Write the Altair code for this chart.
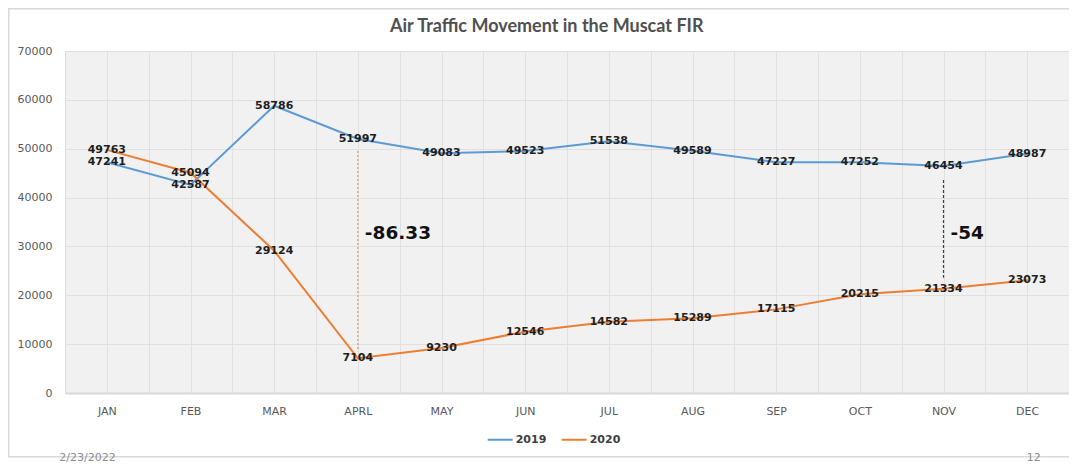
import json
import altair as alt
import pandas as pd

# ---- data ----
months = ["JAN", "FEB", "MAR", "APRL", "MAY", "JUN", "JUL", "AUG", "SEP", "OCT", "NOV", "DEC"]
years = ["2019", "2020"]
values_2019 = [47241, 42587, 58786, 51997, 49083, 49523, 51538, 49589, 47227, 47252, 46454, 48987]
values_2020 = [49763, 45094, 29124, 7104, 9230, 12546, 14582, 15289, 17115, 20215, 21334, 23073]
y_ticks = [0, 10000, 20000, 30000, 40000, 50000, 60000, 70000]
annot_months = ["APRL", "NOV"]
annot_labels = ["-86.33", "-54"]
title_text = "Air Traffic Movement in the Muscat FIR"
footer_left = "2/23/2022"
footer_right = "12"

rows = []
for yr, vals in zip(years, [values_2019, values_2020]):
    for i, (m, v) in enumerate(zip(months, vals)):
        rows.append({"month": m, "idx": i, "year": yr, "value": v})
df = pd.DataFrame(rows)

ann = pd.DataFrame({
    "month": annot_months,
    "idx": [months.index(m) for m in annot_months],
    "top": [values_2019[months.index(m)] for m in annot_months],
    "bottom": [values_2020[months.index(m)] for m in annot_months],
    "label": annot_labels,
})

BLUE = "#5B9BD5"
ORANGE = "#ED7D31"
GRID = "#e0e0e0"
AXIS_TXT = "#595959"

grid_vals = [i / 2 for i in range(-1, 24)]
label_expr = json.dumps(months) + "[datum.value] || ''"

x_enc = alt.X(
    "idx:Q",
    scale=alt.Scale(domain=[-0.5, 11.5], nice=False, zero=False),
    axis=alt.Axis(
        values=grid_vals, labelExpr=label_expr, title=None, ticks=False,
        labelAngle=0, labelOverlap=False, labelFlush=False, labelPadding=12,
        labelFont="DejaVu Sans", labelFontSize=11, labelColor=AXIS_TXT,
        domainColor="#d9d9d9", domainWidth=2, grid=True, gridColor=GRID,
    ),
)
y_enc = alt.Y(
    "value:Q",
    scale=alt.Scale(domain=[0, 70000], nice=False),
    axis=alt.Axis(
        values=y_ticks, format="d", title=None, ticks=False, labelPadding=13,
        labelFlush=False,
        labelFont="DejaVu Sans", labelFontSize=11, labelColor=AXIS_TXT,
        domainColor="#cfe0f3", grid=True, gridColor=GRID,
    ),
)

lines = alt.Chart(df).mark_line(strokeWidth=2, strokeCap="round").encode(
    x=x_enc,
    y=y_enc,
    color=alt.Color(
        "year:N",
        scale=alt.Scale(domain=years, range=[BLUE, ORANGE]),
        legend=alt.Legend(
            orient="none", legendX=421.7, legendY=375, direction="horizontal",
            title=None, symbolType="stroke", symbolSize=625, symbolStrokeWidth=2,
            labelFont="DejaVu Sans", labelFontWeight="bold", labelFontSize=11,
            labelColor="#404040", labelOffset=2, columnPadding=11, padding=0,
        ),
    ),
    detail="year:N",
)

labels = alt.Chart(df).mark_text(
    font="DejaVu Sans", fontWeight="bold", fontSize=11, color="#1e1e1e",
    align="center", baseline="middle",
).encode(x="idx:Q", y="value:Q", text="value:Q")

rule_apr = alt.Chart(ann).transform_filter(alt.datum.month == "APRL").mark_rule(
    color="#F2A36B", strokeDash=[2, 2], strokeWidth=1.5, yOffset=12, y2Offset=-7
).encode(x="idx:Q", y="top:Q", y2="bottom:Q")

rule_nov = alt.Chart(ann).transform_filter(alt.datum.month == "NOV").mark_rule(
    color="#404040", strokeDash=[3, 2], strokeWidth=1.2, yOffset=14, y2Offset=-11
).encode(x="idx:Q", y="top:Q", y2="bottom:Q")

ann_text = alt.Chart(ann).mark_text(
    font="DejaVu Sans", fontWeight="bold", fontSize=18.5, color="#111111",
    align="left", baseline="middle", dx=7,
).encode(x="idx:Q", y=alt.value(181.8), text="label:N")

one = alt.Data(values=[{"a": 1}])

frame = alt.Chart(one).mark_rect(
    fillOpacity=0, stroke="#d9d9d9", strokeWidth=1.5
).encode(x=alt.value(-56.25), x2=alt.value(1030), y=alt.value(-42.25), y2=alt.value(405.7))

title = alt.Chart(one).mark_text(
    font="Lato", fontWeight="bold", fontSize=18, color="#505050",
    align="center", baseline="middle", text=title_text,
).encode(x=alt.value(481.7), y=alt.value(-24))

foot_l = alt.Chart(one).mark_text(
    font="DejaVu Sans", fontSize=11, color="#8c8c8c", align="left",
    baseline="alphabetic", text=footer_left,
).encode(x=alt.value(-5.7), y=alt.value(410))

foot_r = alt.Chart(one).mark_text(
    font="DejaVu Sans", fontSize=11, color="#8c8c8c", align="left",
    baseline="alphabetic", text=footer_right,
).encode(x=alt.value(961.7), y=alt.value(410))

chart = alt.layer(
    frame, lines, rule_apr, rule_nov, labels, ann_text, title, foot_l, foot_r
).properties(
    width=1004, height=342,
    background="white",
    autosize=alt.AutoSizeParams(type="none"),
    padding={"left": 57, "top": 43, "right": 0, "bottom": 70},
).configure_view(
    fill="#f1f1f1", strokeWidth=0
)

chart.save("out.html", embed_options={"renderer": "svg", "actions": False})
